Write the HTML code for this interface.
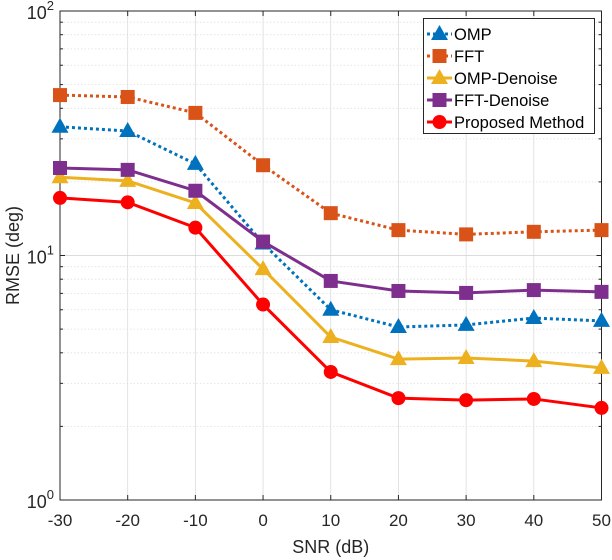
<!DOCTYPE html>
<html><head><meta charset="utf-8"><style>
html,body{margin:0;padding:0;background:#fff;}
svg{display:block;font-family:"Liberation Sans",sans-serif;}
</style></head><body>
<svg id="chart" width="612" height="560" viewBox="0 0 612 560" xmlns="http://www.w3.org/2000/svg"></svg>
<script>
const snr = [-30,-20,-10,0,10,20,30,40,50];
const ompValues = [33.6,32.3,23.7,11.2,6.0,5.1,5.2,5.55,5.4];
const fftValues = [45.3,44.5,38.3,23.4,14.9,12.7,12.2,12.5,12.7];
const ompDenoiseValues = [20.9,20.2,16.4,8.8,4.64,3.77,3.81,3.70,3.47];
const fftDenoiseValues = [22.8,22.4,18.4,11.4,7.87,7.16,7.03,7.22,7.1];
const proposedValues = [17.2,16.5,13.0,6.3,3.34,2.61,2.56,2.59,2.38];
const xTicks = [-30,-20,-10,0,10,20,30,40,50];
const yDecades = [0,1,2];
const seriesNames = ["OMP","FFT","OMP-Denoise","FFT-Denoise","Proposed Method"];

const L=60,R=601.5,T=11,B=500;
const NS="http://www.w3.org/2000/svg";
const svg=document.getElementById('chart');
function X(v){return L+(v+30)/80*(R-L);}
function Y(v){return B-(Math.log10(v)-0)/2*(B-T);}
function mk(tag,attrs,parent){const e=document.createElementNS(NS,tag);for(const k in attrs)e.setAttribute(k,attrs[k]);(parent||svg).appendChild(e);return e;}

const grid=mk('g',{});


xTicks.forEach(t=>{mk('line',{x1:X(t),x2:X(t),y1:T,y2:B,stroke:'#dcdcdc','stroke-width':0.8},grid);});
for(let d=0;d<2;d++){for(let m=1;m<10;m++){const v=Math.pow(10,d)*m;const y=Y(v);
 mk('line',{x1:L,x2:R,y1:y,y2:y,stroke:m===1?'#d0d0d0':'#e0e0e0','stroke-width':0.8,'stroke-dasharray':m===1?'none':'1.5,2'},grid);}}
const ax=mk('rect',{x:L,y:T,width:R-L,height:B-T,fill:'none',stroke:'#262626','stroke-width':1});


xTicks.forEach(t=>{const x=X(t);
 mk('line',{x1:x,x2:x,y1:B,y2:B-5,stroke:'#262626'});mk('line',{x1:x,x2:x,y1:T,y2:T+5,stroke:'#262626'});
 const tx=mk('text',{x:x,y:B+26,'text-anchor':'middle','font-size':17,fill:'#262626'});tx.textContent=t;
 
 
});
for(let d=0;d<2;d++){for(let m=1;m<10;m++){const y=Y(Math.pow(10,d)*m);const len=m===1?5:3;
 mk('line',{x1:L,x2:L+len,y1:y,y2:y,stroke:'#262626'});mk('line',{x1:R,x2:R-len,y1:y,y2:y,stroke:'#262626'});}}
yDecades.forEach(d=>{const y=Y(Math.pow(10,d));
 const tx=mk('text',{x:L-6,y:y+8,'text-anchor':'end','font-size':18,fill:'#262626'});
 tx.innerHTML='10<tspan dy="-9" font-size="13">'+d+'</tspan>';
 
 
});
const xl=mk('text',{x:(L+R)/2,y:553,'text-anchor':'middle','font-size':18,fill:'#262626'});xl.textContent='SNR (dB)';


const yl=mk('text',{x:0,y:0,'text-anchor':'middle','font-size':18,fill:'#262626',transform:'translate(19,'+((T+B)/2)+') rotate(-90)'});yl.textContent='RMSE (deg)';



function marker(g,type,x,y,c){
 if(type==='tri')mk('polygon',{points:`${x},${y-9} ${x-8.5},${y+6} ${x+8.5},${y+6}`,fill:c},g);
 else if(type==='sq')mk('rect',{x:x-7,y:y-7,width:14,height:14,fill:c},g);
 else mk('circle',{cx:x,cy:y,r:7,fill:c},g);
}
const series=[
 {vals:ompValues,c:'#0072BD',dash:'3,3',m:'tri',name:'omp'},
 {vals:fftValues,c:'#D95319',dash:'3,3',m:'sq',name:'fft'},
 {vals:ompDenoiseValues,c:'#EDB120',dash:'none',m:'tri',name:'omp-denoise'},
 {vals:fftDenoiseValues,c:'#7E2F8E',dash:'none',m:'sq',name:'fft-denoise'},
 {vals:proposedValues,c:'#FF0000',dash:'none',m:'circ',name:'proposed-method'}];
series.forEach(s=>{
 const g=mk('g',{});
 
 
 mk('polyline',{points:s.vals.map((v,i)=>X(snr[i])+','+Y(v)).join(' '),fill:'none',stroke:s.c,'stroke-width':3,'stroke-dasharray':s.dash},g);
 s.vals.forEach((v,i)=>marker(g,s.m,X(snr[i]),Y(v),s.c));
});
const lg=mk('g',{});


mk('rect',{x:423.5,y:18.5,width:171,height:115,fill:'#fff',stroke:'#262626','stroke-width':1},lg);
series.forEach((s,i)=>{const y=34+i*22;
 const e=mk('g',{},lg);
 
 
 mk('line',{x1:427,x2:452,y1:y,y2:y,stroke:s.c,'stroke-width':3,'stroke-dasharray':s.dash},e);
 marker(e,s.m,439.5,y,s.c);
 const t=mk('text',{x:454,y:y+6,'font-size':16.5,fill:'#000'},e);t.textContent=seriesNames[i];
});
</script>
</body></html>
